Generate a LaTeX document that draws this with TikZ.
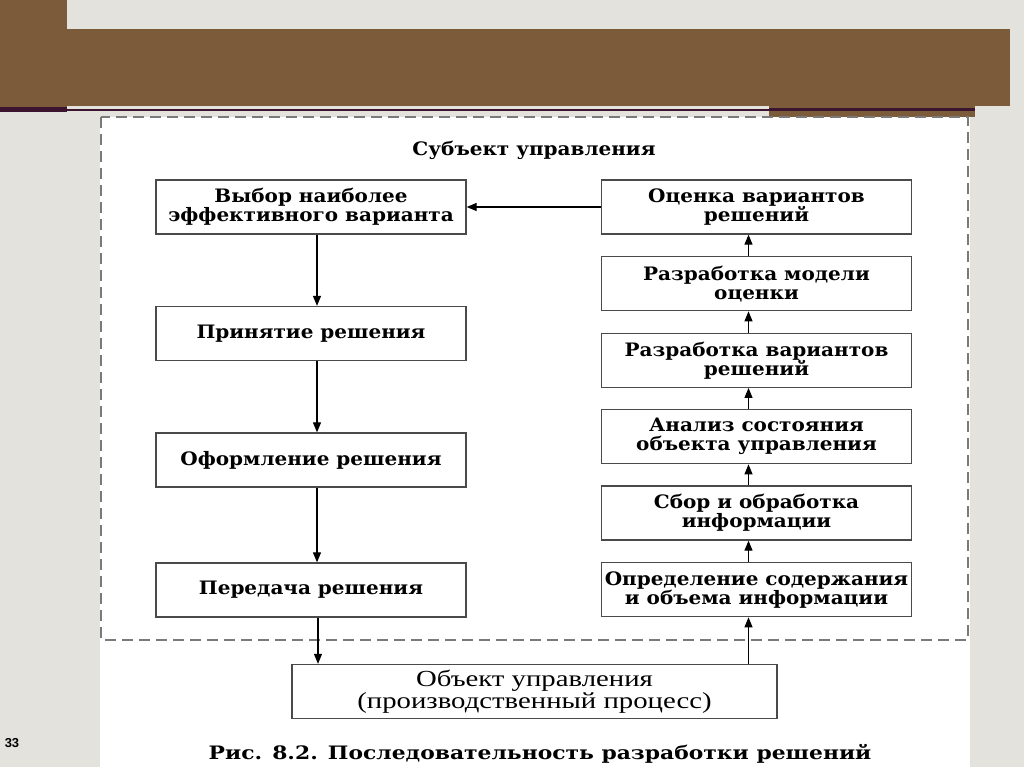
\documentclass[tikz,border=0pt]{standalone}
\usepackage{fontspec}
\setmainfont{Liberation Serif}
\newfontfamily\boxfont{DejaVu Serif}[FakeStretch=1.08]
\newfontfamily\capfont{DejaVu Serif}[FakeStretch=1.18]
\newfontfamily\wideserif{Liberation Serif}[FakeStretch=1.25]
\newfontfamily\numfont{Liberation Sans}
\usetikzlibrary{arrows.meta}
\definecolor{bgtex}{HTML}{E4E2DD}
\definecolor{barbrown}{HTML}{7B5B3A}
\definecolor{barline}{HTML}{3B1430}
\definecolor{dashgray}{HTML}{7A7A7A}
\definecolor{boxedge}{HTML}{4A4A4A}

\begin{document}
\begin{tikzpicture}[x=1pt,y=-1pt,
  stage/.style={draw=boxedge,line width=1.3pt,fill=white,inner sep=0pt,
    minimum width=310pt,minimum height=54pt,align=center,
    font=\boxfont\bfseries\fontsize{18.5}{19}\selectfont},
  objbox/.style={draw=boxedge,line width=1.3pt,fill=white,inner sep=0pt,
    minimum width=485pt,minimum height=54pt,align=center,
    font=\wideserif\fontsize{23}{22}\selectfont},
  flow/.style={line width=1.1pt,-{Triangle[width=8pt,length=10pt]}},
  dashbox/.style={draw=dashgray,line width=1.2pt,dash pattern=on 11pt off 6pt}]
\useasboundingbox (0,0) rectangle (1024,767);
% background, top bar and page
\fill[bgtex] (0,0) rectangle (1024,767);
\fill[barbrown] (0,0) rectangle (67,108);
\fill[barbrown] (67,29) rectangle (1010,106);
\fill[barbrown] (769,106) rectangle (975,117);
\fill[barline] (0,107) rectangle (67,112);
\fill[barline] (67,109) rectangle (769,111);
\fill[barline] (769,108.5) rectangle (975,111.5);
\fill[white] (100,117) rectangle (970,767);
\draw[dashbox] (101,117) rectangle (968,640);
% subject of management
\node[font=\boxfont\bfseries\fontsize{18.5}{19}\selectfont] (subj) at (534,150) {Субъект управления};
\node[stage] (v1) at (311,207) {Выбор наиболее\\эффективного варианта};
\node[stage] (v2) at (311,333.5) {Принятие решения};
\node[stage] (v3) at (311,460) {Оформление решения};
\node[stage] (v4) at (311,590) {Передача решения};
\node[stage] (w6) at (756.5,207) {Оценка вариантов\\решений};
\node[stage] (w5) at (756.5,283.7) {Разработка модели\\оценки};
\node[stage] (w4) at (756.5,360.3) {Разработка вариантов\\решений};
\node[stage] (w3) at (756.5,436.7) {Анализ состояния\\объекта управления};
\node[stage] (w2) at (756.5,513) {Сбор и обработка\\информации};
\node[stage] (w1) at (756.5,589.7) {Определение содержания\\и объема информации};
% object of management
\node[objbox] (obj) at (534.5,691.5) {Объект управления\\(производственный процесс)};
\node[font=\capfont\bfseries\fontsize{18.5}{19}\selectfont] (cap) at (540,754) {Рис. 8.2. Последовательность разработки решений};
\node[font=\numfont\bfseries\fontsize{13}{14}\selectfont] (pnum) at (12,743) {33};
% connectors
\coordinate (a1) at ([xshift=6pt]v1.south);
\coordinate (a2) at ([xshift=6pt]v2.south);
\coordinate (a3) at ([xshift=6pt]v3.south);
\coordinate (a4) at ([xshift=7pt]v4.south);
\draw[flow] (a1) -- (a1 |- v2.north);
\draw[flow] (a2) -- (a2 |- v3.north);
\draw[flow] (a3) -- (a3 |- v4.north);
\draw[flow] (a4) -- (a4 |- obj.north);
\coordinate (b0) at ([xshift=214pt]obj.north);
\draw[flow] (b0) -- (b0 |- w1.south);
\foreach \i/\j in {w1/w2,w2/w3,w3/w4,w4/w5,w5/w6}
  \draw[flow] ([xshift=-8pt]\i.north) -- ([xshift=-8pt]\j.south);
\draw[flow] (w6.west) -- (v1.east);
\end{tikzpicture}
\end{document}
